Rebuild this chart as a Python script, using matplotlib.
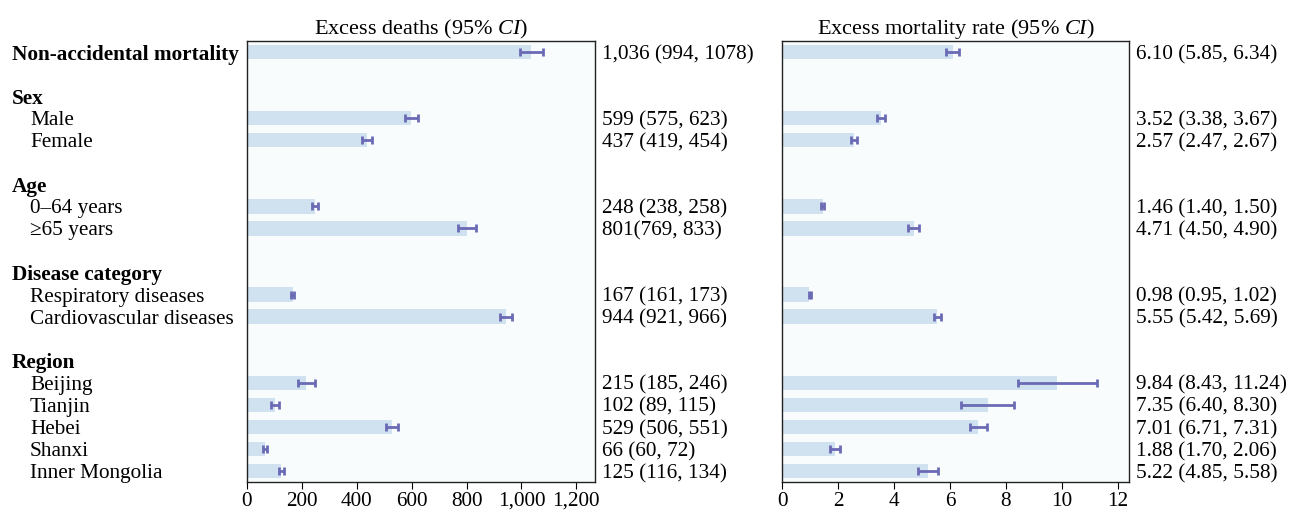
import numpy as np
import matplotlib.pyplot as plt
from matplotlib.ticker import FuncFormatter
from matplotlib.transforms import blended_transform_factory

plt.rcParams['font.family'] = 'Liberation Serif'
plt.rcParams['mathtext.fontset'] = 'custom'
plt.rcParams['mathtext.rm'] = 'Liberation Serif'
plt.rcParams['mathtext.it'] = 'Liberation Serif:italic'

# Row layout: kind 'bold' data row, 'head' header, 'item' data row, '' blank
row_labels = ["Non-accidental mortality", "", "Sex", "Male", "Female", "",
              "Age", "0–64 years", "≥65 years", "",
              "Disease category", "Respiratory diseases", "Cardiovascular diseases", "",
              "Region", "Beijing", "Tianjin", "Hebei", "Shanxi", "Inner Mongolia"]
row_kinds = ["bold", "", "head", "item", "item", "",
             "head", "item", "item", "",
             "head", "item", "item", "",
             "head", "item", "item", "item", "item", "item"]

# Data rows (in order)
deaths = [1036, 599, 437, 248, 801, 167, 944, 215, 102, 529, 66, 125]
deaths_lo = [994, 575, 419, 238, 769, 161, 921, 185, 89, 506, 60, 116]
deaths_hi = [1078, 623, 454, 258, 833, 173, 966, 246, 115, 551, 72, 134]
deaths_text = ["1,036 (994, 1078)", "599 (575, 623)", "437 (419, 454)",
               "248 (238, 258)", "801(769, 833)", "167 (161, 173)",
               "944 (921, 966)", "215 (185, 246)", "102 (89, 115)",
               "529 (506, 551)", "66 (60, 72)", "125 (116, 134)"]

rate = [6.10, 3.52, 2.57, 1.46, 4.71, 0.98, 5.55, 9.84, 7.35, 7.01, 1.88, 5.22]
rate_lo = [5.85, 3.38, 2.47, 1.40, 4.50, 0.95, 5.42, 8.43, 6.40, 6.71, 1.70, 4.85]
rate_hi = [6.34, 3.67, 2.67, 1.50, 4.90, 1.02, 5.69, 11.24, 8.30, 7.31, 2.06, 5.58]
rate_text = ["6.10 (5.85, 6.34)", "3.52 (3.38, 3.67)", "2.57 (2.47, 2.67)",
             "1.46 (1.40, 1.50)", "4.71 (4.50, 4.90)", "0.98 (0.95, 1.02)",
             "5.55 (5.42, 5.69)", "9.84 (8.43, 11.24)", "7.35 (6.40, 8.30)",
             "7.01 (6.71, 7.31)", "1.88 (1.70, 2.06)", "5.22 (4.85, 5.58)"]

ypos = np.array([i for i, k in enumerate(row_kinds) if k in ("bold", "item")])

bar_color = "#d0e1ef"
err_color = "#6b6bb5"
bg_color = "#f9fcfd"
fs = 15.3

fig = plt.figure(figsize=(12.91, 5.12), dpi=100)
ax1 = fig.add_axes([247 / 1291, 30 / 512, 348 / 1291, 441 / 512])
ax2 = fig.add_axes([782 / 1291, 30 / 512, 347 / 1291, 441 / 512])


def draw_panel(ax, vals, lo, hi, texts, xmax, ticks, title):
    vals = np.array(vals)
    err = [vals - np.array(lo), np.array(hi) - vals]
    ax.set_facecolor(bg_color)
    ax.barh(ypos, vals, height=0.65, color=bar_color)
    ax.errorbar(vals, ypos, xerr=err, fmt='none', ecolor=err_color,
                elinewidth=2, capsize=3, capthick=2)
    ax.set_xlim(0, xmax)
    ax.set_ylim(19.5, -0.5)
    ax.set_xticks(ticks)
    ax.xaxis.set_major_formatter(FuncFormatter(lambda v, p: f"{v:,.0f}"))
    ax.tick_params(axis='x', direction='out', length=5, labelsize=fs, pad=2)
    ax.tick_params(axis='y', left=False, labelleft=False)
    for s in ax.spines.values():
        s.set_linewidth(1.0)
        s.set_color("#222222")
    tr = blended_transform_factory(ax.transAxes, ax.transData)
    for y, t in zip(ypos, texts):
        ax.annotate(t, xy=(1, y), xycoords=tr, xytext=(7, 0),
                    textcoords='offset pixels', va='center_baseline',
                    ha='left', fontsize=fs, annotation_clip=False)
    ax.set_title(title, fontsize=16, pad=5)


draw_panel(ax1, deaths, deaths_lo, deaths_hi, deaths_text, 1268,
           np.arange(0, 1201, 200), "Excess deaths (95% $\\it{CI}$)")
draw_panel(ax2, rate, rate_lo, rate_hi, rate_text, 12.4,
           np.arange(0, 13, 2), "Excess mortality rate (95% $\\it{CI}$)")

# row labels on the left
tr = blended_transform_factory(fig.transFigure, ax1.transData)
for i, (lab, kind) in enumerate(zip(row_labels, row_kinds)):
    if not lab:
        continue
    if kind in ("bold", "head"):
        fig.text(12 / 1291, i, lab, transform=tr, va='center_baseline',
                 ha='left', fontsize=fs, fontweight='bold')
    else:
        fig.text(30 / 1291, i, lab, transform=tr, va='center_baseline',
                 ha='left', fontsize=fs)

fig.savefig("out.png", dpi=100)
